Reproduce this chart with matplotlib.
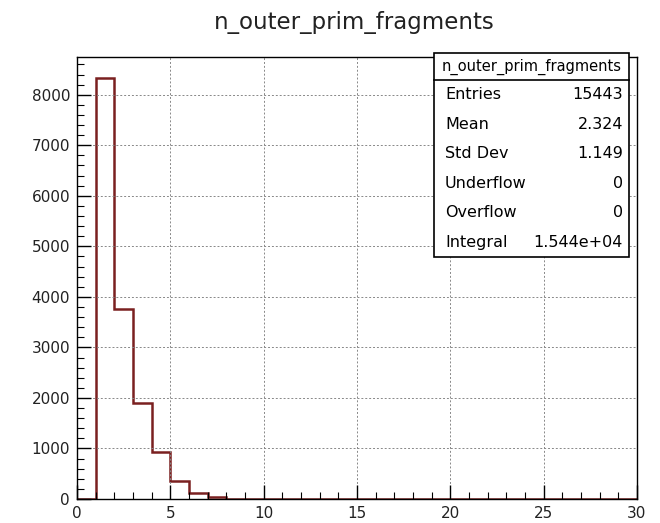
import numpy as np
import matplotlib
matplotlib.use("Agg")
import matplotlib.pyplot as plt
from matplotlib.patches import Rectangle
from matplotlib.ticker import MultipleLocator

plt.rcParams['font.family'] = ['DejaVu Sans']

# histogram contents, unit-width bins from 0 to 30
bin_edges = np.arange(0, 31)
counts = [0, 8330, 3760, 1900, 930, 350, 125, 40, 8] + [0] * 21

title = "n_outer_prim_fragments"
stats_rows = [("Entries", "15443"), ("Mean", "2.324"), ("Std Dev", "1.149"),
              ("Underflow", "0"), ("Overflow", "0"), ("Integral", "1.544e+04")]

fig = plt.figure(figsize=(6.6, 5.23), dpi=100)
ax = fig.add_axes([77 / 660, 1 - 499 / 523, 560 / 660, 442 / 523])

ax.stairs(counts, bin_edges, color="#7a2020", lw=1.8)

ax.set_xlim(0, 30)
ax.set_ylim(0, max(counts) * 1.05)

ax.xaxis.set_major_locator(MultipleLocator(5))
ax.xaxis.set_minor_locator(MultipleLocator(1))
ax.yaxis.set_major_locator(MultipleLocator(1000))
ax.yaxis.set_minor_locator(MultipleLocator(200))
ax.tick_params(which="both", direction="in", top=False, right=False, labelsize=11,
               labelcolor="#222222")
ax.tick_params(which="major", length=10, width=1)
ax.tick_params(which="minor", length=5, width=0.8)
ax.tick_params(axis="x", pad=5)
ax.tick_params(axis="y", pad=5)
ax.grid(True, which="major", ls=(0, (2, 2)), color="#888888", lw=0.7)
for s in ax.spines.values():
    s.set_linewidth(1)

fig.text(354 / 660, 1 - 22 / 523, title, ha="center", va="center", fontsize=16.5,
         color="#222222")

# stats box
W, H = 660, 523
bx0, bx1, by0, by1, sep = 434, 629, 53, 257, 80
fig.add_artist(Rectangle((bx0 / W, 1 - by1 / H), (bx1 - bx0) / W, (by1 - by0) / H,
                         transform=fig.transFigure, fc="white", ec="black", lw=1.2, zorder=5))
fig.add_artist(plt.Line2D([bx0 / W, bx1 / W], [1 - sep / H] * 2, transform=fig.transFigure,
                          color="black", lw=1.2, zorder=6))
fig.text((bx0 + bx1) / 2 / W, 1 - (by0 + sep) / 2 / H, title, ha="center", va="center",
         fontsize=10.5, zorder=7)
row_h = (by1 - sep) / len(stats_rows)
for i, (name, val) in enumerate(stats_rows):
    yc = 1 - (sep + row_h * (i + 0.5)) / H
    fig.text(445 / W, yc, name, ha="left", va="center", fontsize=11.5, zorder=7)
    fig.text(623 / W, yc, val, ha="right", va="center", fontsize=11.5, zorder=7)

fig.savefig("out.png", dpi=100)
